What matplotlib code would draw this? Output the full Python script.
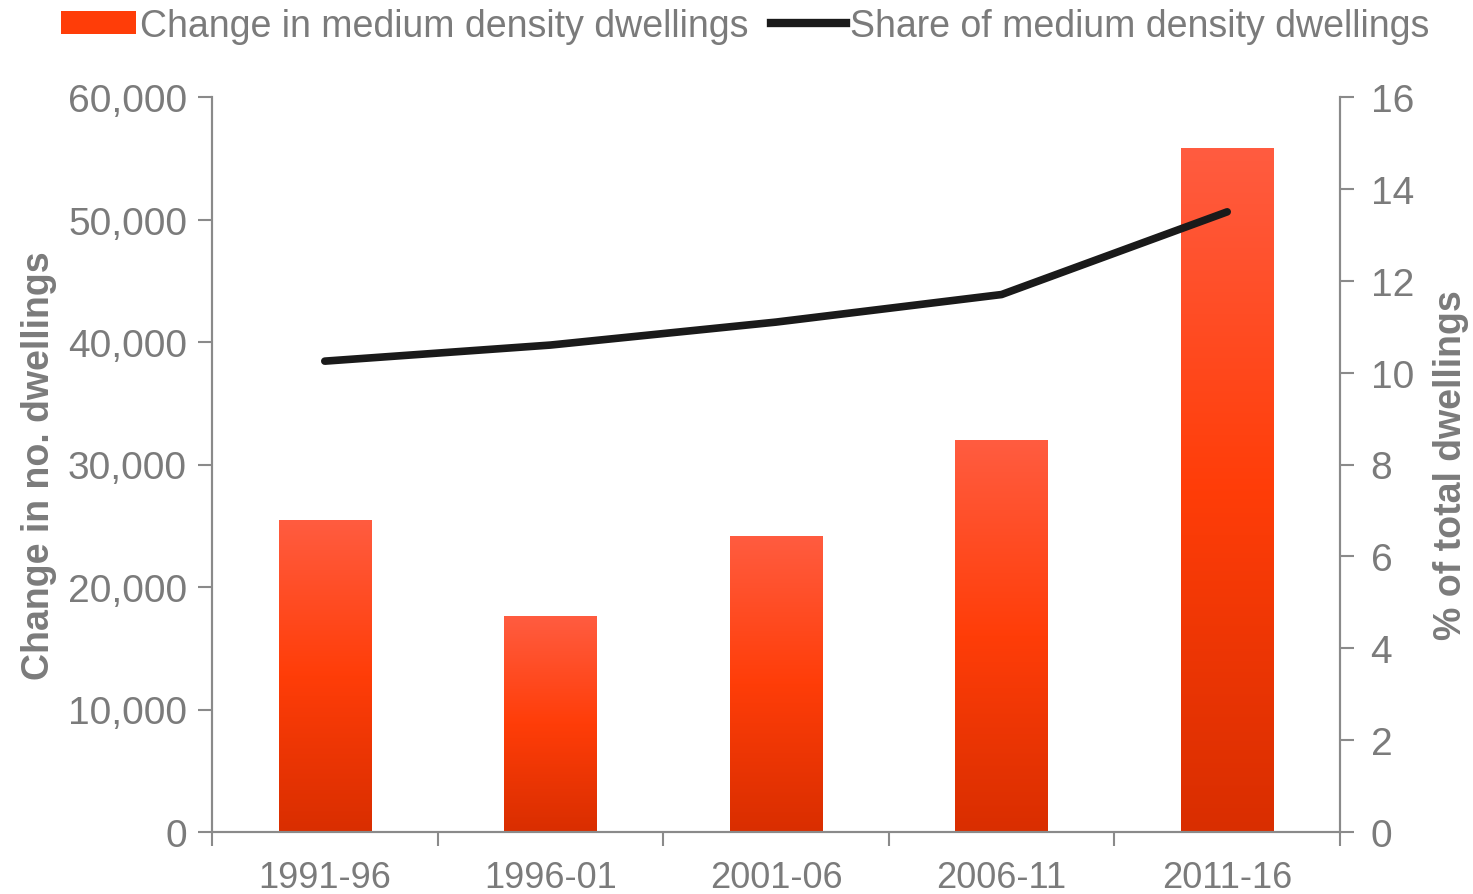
import matplotlib
matplotlib.use("Agg")
import matplotlib.pyplot as plt
import numpy as np
from matplotlib.colors import LinearSegmentedColormap
from matplotlib.lines import Line2D
from matplotlib.patches import Patch

categories = ["1991-96", "1996-01", "2001-06", "2006-11", "2011-16"]
change_dwellings = [25500, 17600, 24200, 32000, 55800]
share_pct = [10.25, 10.6, 11.1, 11.7, 13.5]

plt.rcParams['font.family'] = ['Liberation Sans', 'DejaVu Sans']
gray = "#7b7b7b"

fig = plt.figure(figsize=(14.73, 8.95), dpi=100)
ax = fig.add_axes([212/1473, 62/895, 1128/1473, 735/895])
ax2 = ax.twinx()

x = np.arange(len(categories))
bars = ax.bar(x, change_dwellings, width=0.41, color="none", edgecolor="none", zorder=2)
cmap = LinearSegmentedColormap.from_list("g", ["#d92e00", "#ff3d08", "#ff5c40"])
grad = np.linspace(0, 1, 256).reshape(-1, 1)
for b in bars:
    x0, y0 = b.get_x(), b.get_y()
    w, h = b.get_width(), b.get_height()
    im = ax.imshow(grad, cmap=cmap, origin="lower", aspect="auto",
                   extent=[x0, x0 + w, y0, y0 + h], zorder=2)
    im.set_clip_path(b)

ax.set_xlim(-0.5, 4.5)
ax.set_ylim(0, 60000)
ax2.set_ylim(0, 16)
ax2.plot(x, share_pct, color="#1a1a1a", lw=5.5, solid_capstyle="round", zorder=3)

ax.set_yticks(range(0, 60001, 10000))
ax.set_yticklabels([f"{v:,}" for v in range(0, 60001, 10000)])
ax2.set_yticks(range(0, 17, 2))
ax.set_xticks(x)
ax.set_xticklabels(categories)
ax.set_xticks(np.arange(-0.5, 4.6, 1), minor=True)
ax.tick_params(axis="x", which="major", length=0, labelsize=26, labelcolor=gray, pad=20)
ax.tick_params(axis="x", which="minor", length=10, width=1.5, color="#8a8a8a", direction="out")
ax.tick_params(axis="y", length=10, width=1.5, color="#8a8a8a", labelsize=28, labelcolor=gray, pad=8)
ax2.tick_params(axis="y", length=10, width=1.5, color="#8a8a8a", labelsize=28, labelcolor=gray, pad=12)

for a in (ax, ax2):
    a.spines["top"].set_visible(False)
    for s in ("left", "right", "bottom"):
        a.spines[s].set_color("#8a8a8a")
        a.spines[s].set_linewidth(1.5)

ax.set_ylabel("Change in no. dwellings", fontsize=27, color=gray, fontweight="bold", labelpad=8)
ax2.set_ylabel("% of total dwellings", fontsize=27, color=gray, fontweight="bold", labelpad=14)

handles = [Patch(facecolor="#ff3d08", edgecolor="none"),
           Line2D([0], [0], color="#1a1a1a", lw=6)]
fig.legend(handles, ["Change in medium density dwellings", "Share of medium density dwellings"],
           loc="upper center", bbox_to_anchor=(745/1473, 1.028), ncol=2, frameon=False,
           fontsize=27, labelcolor=gray, handlelength=2.0, handletextpad=0.1, columnspacing=0.6,
           handleheight=0.6)

fig.savefig("out.png", dpi=100)
